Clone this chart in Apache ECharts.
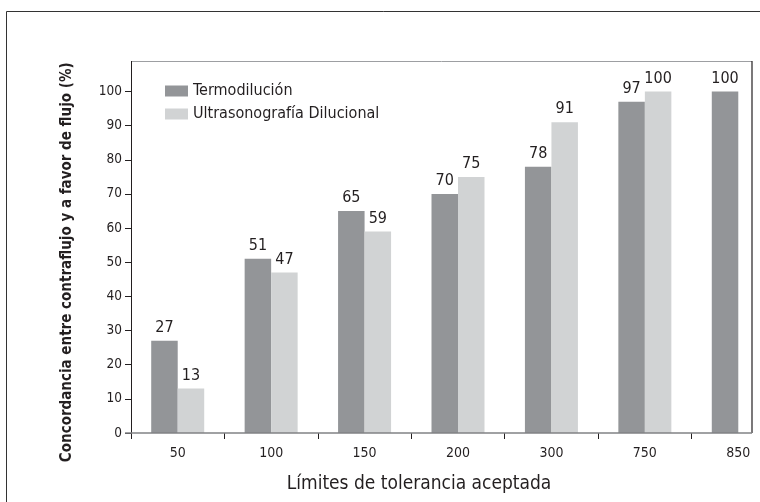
<!DOCTYPE html>
<html>
<head>
<meta charset="utf-8">
<script src="https://cdn.jsdelivr.net/npm/echarts@6/dist/echarts.min.js"></script>
<style>
  html, body { margin: 0; padding: 0; background: #fff; }
  #chart { width: 760px; height: 502px; }
</style>
</head>
<body>
<div id="chart"></div>
<script>
// Tolerance limits (categories) and agreement percentages per method
const categories = ['50', '100', '150', '200', '300', '750', '850'];
const termodilucion = [27, 51, 65, 70, 78, 97, 100];
const ultrasonografia = [13, 47, 59, 75, 91, 100, null];
const yTicks = { min: 0, max: 100, step: 10 };

const seriesNames = ['Termodilución', 'Ultrasonografía Dilucional'];
const xTitle = 'Límites de tolerancia aceptada';
const yTitle = 'Concordancia entre contraflujo y a favor de flujo (%)';

const FONT = '"DejaVu Sans Condensed", "DejaVu Sans", sans-serif';
const INK = '#231f20';
const DARK = '#939598';
const LIGHT = '#d1d3d4';

const chart = echarts.init(document.getElementById('chart'), null, { renderer: 'canvas' });

const valueLabel = {
  show: true,
  position: 'top',
  distance: 5,
  color: INK,
  fontFamily: FONT,
  fontSize: 16
};

chart.setOption({
  animation: false,
  backgroundColor: '#fff',
  textStyle: { fontFamily: FONT, color: INK },
  title: {
    text: xTitle,
    left: 419,
    top: 475,
    textAlign: 'center',
    padding: 0,
    textStyle: { fontFamily: FONT, fontSize: 19, fontWeight: 'normal', color: INK }
  },
  // the last category band runs past the right edge of the plot box
  grid: { left: 131, top: 91.5, width: 654, bottom: 69, containLabel: false, outerBoundsMode: 'none' },
  legend: {
    orient: 'vertical',
    left: 165,
    top: 83,
    padding: 0,
    itemWidth: 23,
    itemHeight: 11,
    itemGap: 7,
    icon: 'rect',
    textStyle: { fontFamily: FONT, fontSize: 16, color: INK },
    data: seriesNames
  },
  xAxis: {
    type: 'category',
    data: categories,
    boundaryGap: true,
    axisLine: { show: false },
    axisTick: { show: true, length: 6, lineStyle: { color: INK, width: 1 } },
    axisLabel: { margin: 13, fontFamily: FONT, fontSize: 14, color: INK },
    splitLine: { show: false }
  },
  yAxis: {
    type: 'value',
    min: yTicks.min,
    max: yTicks.max,
    interval: yTicks.step,
    name: yTitle,
    nameLocation: 'middle',
    nameGap: 56,
    nameTextStyle: { fontFamily: FONT, fontSize: 15, fontWeight: 'bold', color: INK },
    axisLine: { show: true, lineStyle: { color: INK, width: 1 } },
    axisTick: { show: true, length: 6, lineStyle: { color: INK, width: 1 } },
    axisLabel: { margin: 9, fontFamily: FONT, fontSize: 13.5, color: INK },
    splitLine: { show: false }
  },
  series: [
    {
      name: seriesNames[0],
      type: 'bar',
      data: termodilucion,
      barWidth: 26.5,
      barGap: '0%',
      itemStyle: { color: DARK },
      label: valueLabel
    },
    {
      name: seriesNames[1],
      type: 'bar',
      data: ultrasonografia,
      barWidth: 26.5,
      barGap: '0%',
      itemStyle: { color: LIGHT },
      label: valueLabel
    }
  ],
  graphic: [
    // outer figure frame
    { type: 'rect', shape: { x: 6.5, y: 11.5, width: 800, height: 600 },
      style: { fill: 'none', stroke: '#333', lineWidth: 1 }, silent: true },
    // plot box: top, left extension, right edge and baseline
    { type: 'line', shape: { x1: 131, y1: 61.5, x2: 752, y2: 61.5 },
      style: { stroke: '#9d9fa2', lineWidth: 1 }, silent: true },
    { type: 'line', shape: { x1: 131.5, y1: 61, x2: 131.5, y2: 92 },
      style: { stroke: INK, lineWidth: 1 }, silent: true },
    { type: 'line', shape: { x1: 752, y1: 61, x2: 752, y2: 433 },
      style: { stroke: INK, lineWidth: 1.2 }, silent: true },
    { type: 'line', shape: { x1: 125, y1: 433, x2: 752, y2: 433 },
      style: { stroke: '#808285', lineWidth: 1.6 }, silent: true, z: 10 }
  ]
});
</script>
</body>
</html>
